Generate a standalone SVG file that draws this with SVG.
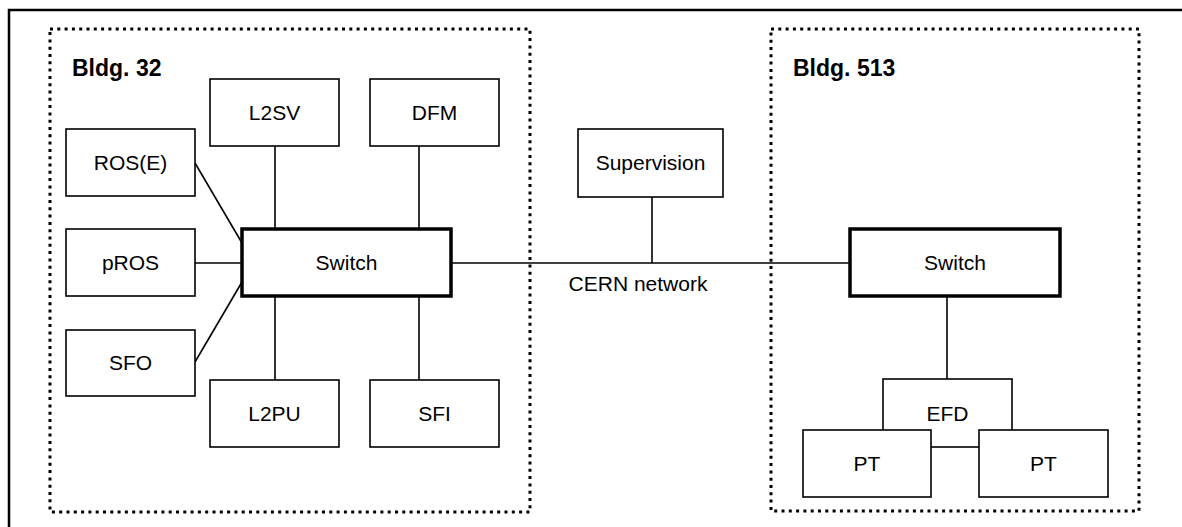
<svg xmlns="http://www.w3.org/2000/svg" width="1182" height="527" viewBox="0 0 1182 527">
<style>
.frame{fill:none;stroke:#000;stroke-width:2.5}
.zone{fill:none;stroke:#000;stroke-width:3;stroke-dasharray:3 4.3}
.box{fill:#fff;stroke:#000;stroke-width:1.6}
.sw{fill:#fff;stroke:#000;stroke-width:3.5}
.lbl{font-family:"Liberation Sans",Arial,sans-serif;font-size:21px;fill:#000;text-anchor:middle}
.title{font-family:"Liberation Sans",Arial,sans-serif;font-size:23px;font-weight:bold;fill:#000}
.ln{stroke:#000;stroke-width:1.6;fill:none}
</style>
<rect width="1182" height="527" fill="#fff"/>
<rect class="frame" x="9" y="10" width="1200" height="600"/>
<g id="bldg32">
<rect class="zone" x="50" y="29" width="480" height="483"/>
<text class="title" x="72" y="76">Bldg. 32</text>
</g>
<g id="bldg513">
<rect class="zone" x="771" y="29" width="368" height="482"/>
<text class="title" x="793" y="76">Bldg. 513</text>
</g>
<g id="connectors">
<line class="ln" x1="275" y1="146" x2="275" y2="229"/>
<line class="ln" x1="419" y1="146" x2="419" y2="229"/>
<line class="ln" x1="275" y1="296" x2="275" y2="380"/>
<line class="ln" x1="419" y1="296" x2="419" y2="380"/>
<line class="ln" x1="195" y1="163" x2="242" y2="243"/>
<line class="ln" x1="195" y1="263" x2="242" y2="263"/>
<line class="ln" x1="195" y1="362" x2="242" y2="282"/>
<line class="ln" x1="451" y1="263" x2="850" y2="263"/>
<line class="ln" x1="652" y1="197" x2="652" y2="263"/>
<line class="ln" x1="947" y1="296" x2="947" y2="379"/>
<text class="lbl" x="638" y="291">CERN network</text>
</g>
<g id="L2SV"><rect class="box" x="210" y="79" width="129" height="67"/><text class="lbl" x="274.5" y="120">L2SV</text></g>
<g id="DFM"><rect class="box" x="370" y="79" width="129" height="67"/><text class="lbl" x="434.5" y="120">DFM</text></g>
<g id="ROSE"><rect class="box" x="66" y="129" width="129" height="67"/><text class="lbl" x="130.5" y="170">ROS(E)</text></g>
<g id="pROS"><rect class="box" x="66" y="229" width="129" height="67"/><text class="lbl" x="130.5" y="270">pROS</text></g>
<g id="SFO"><rect class="box" x="66" y="330" width="129" height="66"/><text class="lbl" x="130.5" y="370">SFO</text></g>
<g id="SwitchL"><rect class="sw" x="242" y="229" width="209" height="67"/><text class="lbl" x="346.5" y="270">Switch</text></g>
<g id="L2PU"><rect class="box" x="210" y="380" width="129" height="67"/><text class="lbl" x="274.5" y="421">L2PU</text></g>
<g id="SFI"><rect class="box" x="370" y="380" width="129" height="67"/><text class="lbl" x="434.5" y="421">SFI</text></g>
<g id="Supervision"><rect class="box" x="578" y="129" width="145" height="68"/><text class="lbl" x="650.5" y="170">Supervision</text></g>
<g id="SwitchR"><rect class="sw" x="850" y="229" width="210" height="67"/><text class="lbl" x="955" y="270">Switch</text></g>
<g id="EFD"><rect class="box" x="883" y="379" width="129" height="68"/><text class="lbl" x="947.5" y="421">EFD</text></g>
<g id="PT1"><rect class="box" x="803" y="430" width="128" height="67"/><text class="lbl" x="867" y="471">PT</text></g>
<g id="PT2"><rect class="box" x="979" y="430" width="129" height="67"/><text class="lbl" x="1043.5" y="471">PT</text></g>
</svg>
